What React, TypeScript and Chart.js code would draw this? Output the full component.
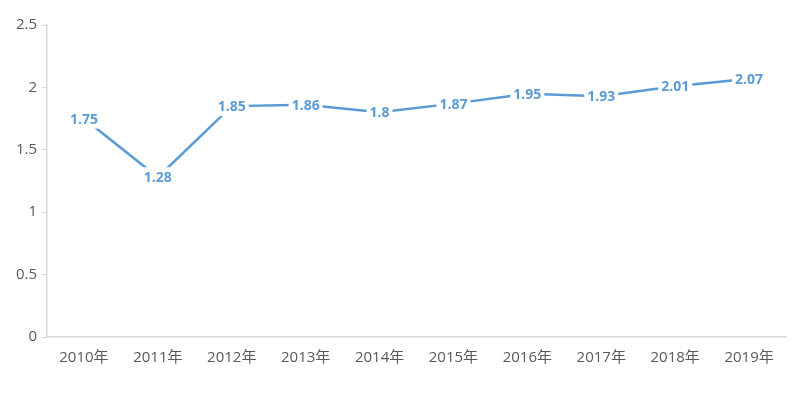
import React, { useEffect, useRef } from "react";
import { Chart, registerables } from "chart.js";

Chart.register(...registerables);

const categories = ["2010年", "2011年", "2012年", "2013年", "2014年", "2015年", "2016年", "2017年", "2018年", "2019年"];
const values = [1.75, 1.28, 1.85, 1.86, 1.8, 1.87, 1.95, 1.93, 2.01, 2.07];
const yTicks = [0, 0.5, 1, 1.5, 2, 2.5];

const lineColor = "#5B9BD5";
const fontFamily = "'Open Sans', 'Noto Sans', 'Noto Sans CJK SC', sans-serif";

const labelPlugin = {
  id: "boxedLabels",
  afterDatasetsDraw(chart: any) {
    const ctx = chart.ctx;
    const meta = chart.getDatasetMeta(0);
    ctx.save();
    ctx.font = `bold 14px ${fontFamily}`;
    ctx.textAlign = "center";
    ctx.textBaseline = "middle";
    meta.data.forEach((pt: any, i: number) => {
      const text = String(values[i]);
      const w = ctx.measureText(text).width;
      const h = 14;
      ctx.fillStyle = "#ffffff";
      ctx.fillRect(pt.x - w / 2 - 3, pt.y - h / 2 - 3, w + 6, h + 6);
      ctx.fillStyle = lineColor;
      ctx.fillText(text, pt.x, pt.y + 1);
    });
    ctx.restore();
  },
};

export default function App() {
  const ref = useRef<HTMLCanvasElement | null>(null);
  useEffect(() => {
    if (!ref.current) return;
    const chart = new Chart(ref.current, {
      type: "line",
      data: {
        labels: categories,
        datasets: [
          {
            data: values,
            borderColor: lineColor,
            borderWidth: 2.5,
            pointRadius: 0,
            tension: 0,
          },
        ],
      },
      options: {
        animation: false,
        responsive: false,
        maintainAspectRatio: false,
        layout: { padding: { left: 0, right: 23, top: 25, bottom: 0 } },
        plugins: { legend: { display: false }, tooltip: { enabled: false } },
        scales: {
          x: {
            offset: true,
            grid: { display: false, drawTicks: false },
            border: { display: true, color: "#d9d9d9", width: 1.5 },
            ticks: { color: "#595959", font: { family: fontFamily, size: 15 }, padding: 12, maxRotation: 0 },
            afterFit(scale: any) {
              scale.height = 57;
            },
          },
          y: {
            min: 0,
            max: 2.5,
            afterBuildTicks(scale: any) {
              scale.ticks = yTicks.map((v) => ({ value: v }));
            },
            grid: { drawOnChartArea: false, drawTicks: true, tickLength: 5, color: "#d9d9d9" },
            border: { display: true, color: "#d9d9d9", width: 1.5 },
            ticks: {
              color: "#595959",
              font: { family: fontFamily, size: 15 },
              padding: 5,
              callback: (v: any) => String(v),
            },
            afterFit(scale: any) {
              scale.width = 47;
            },
          },
        },
      },
      plugins: [labelPlugin],
    });
    return () => chart.destroy();
  }, []);
  return (
    <div style={{ position: "fixed", left: 0, top: 0, width: 809, height: 394, background: "#fff" }}>
      <canvas ref={ref} width={809} height={394} style={{ width: 809, height: 394 }} />
    </div>
  );
}
